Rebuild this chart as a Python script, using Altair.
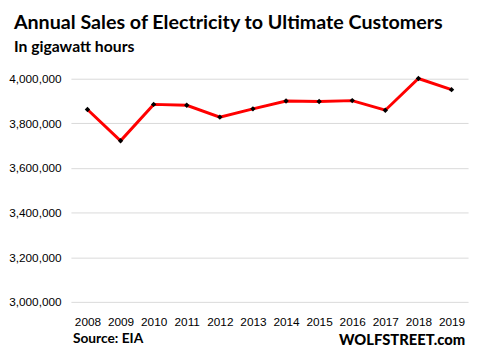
import altair as alt
import pandas as pd

years = [str(y) for y in range(2008, 2020)]
sales = [3862000, 3722000, 3885000, 3881000, 3828000, 3865000,
         3900000, 3898000, 3902000, 3859000, 4001000, 3951000]

df = pd.DataFrame({"year": years, "sales": sales})

x = alt.X("year:N", scale=alt.Scale(type="point", padding=0.5),
          axis=alt.Axis(title=None, labelAngle=0, ticks=False, domain=False,
                        labelFont="Liberation Sans", labelFontSize=12,
                        labelColor="#000000", labelPadding=15, grid=False))
y = alt.Y("sales:Q", scale=alt.Scale(domain=[3000000, 4000000], nice=False, zero=False),
          axis=alt.Axis(title=None, values=[3000000, 3200000, 3400000, 3600000, 3800000, 4000000],
                        format=",.0f", ticks=False, domain=False, labelPadding=10,
                        labelFont="Liberation Sans", labelFontSize=12,
                        labelColor="#000000", gridColor="#d9d9d9", gridWidth=1))

base = alt.Chart(df)
line = base.mark_line(color="#ff0000", strokeWidth=3).encode(x=x, y=y)
pts = base.mark_point(shape="diamond", filled=True, color="#000000", size=30, opacity=1).encode(x=x, y=y)

def txt(s, xv, yv, size, align="left", font="Lato", weight="bold"):
    return alt.Chart(pd.DataFrame({"t": [s]})).mark_text(
        align=align, baseline="middle", font=font, fontWeight=weight,
        fontSize=size, color="#000000").encode(
        x=alt.value(xv), y=alt.value(yv), text="t:N")

title = txt("Annual Sales of Electricity to Ultimate Customers", -58, -57, 20)
sub = txt("In gigawatt hours", -58, -32, 16)
src = txt("Source: EIA", 2, 265, 14)
wolf = txt("WOLFSTREET.com", 401, 266, 15, weight=900, align="right")

chart = alt.layer(line, pts, title, sub, src, wolf).properties(
    width=404, height=227,
    autosize=alt.AutoSizeParams(type="none"),
    padding={"left": 64, "top": 69, "right": 4, "bottom": 47},
).configure_view(stroke=None)

chart.save("out.html", embed_options={"renderer": "svg", "actions": False})
